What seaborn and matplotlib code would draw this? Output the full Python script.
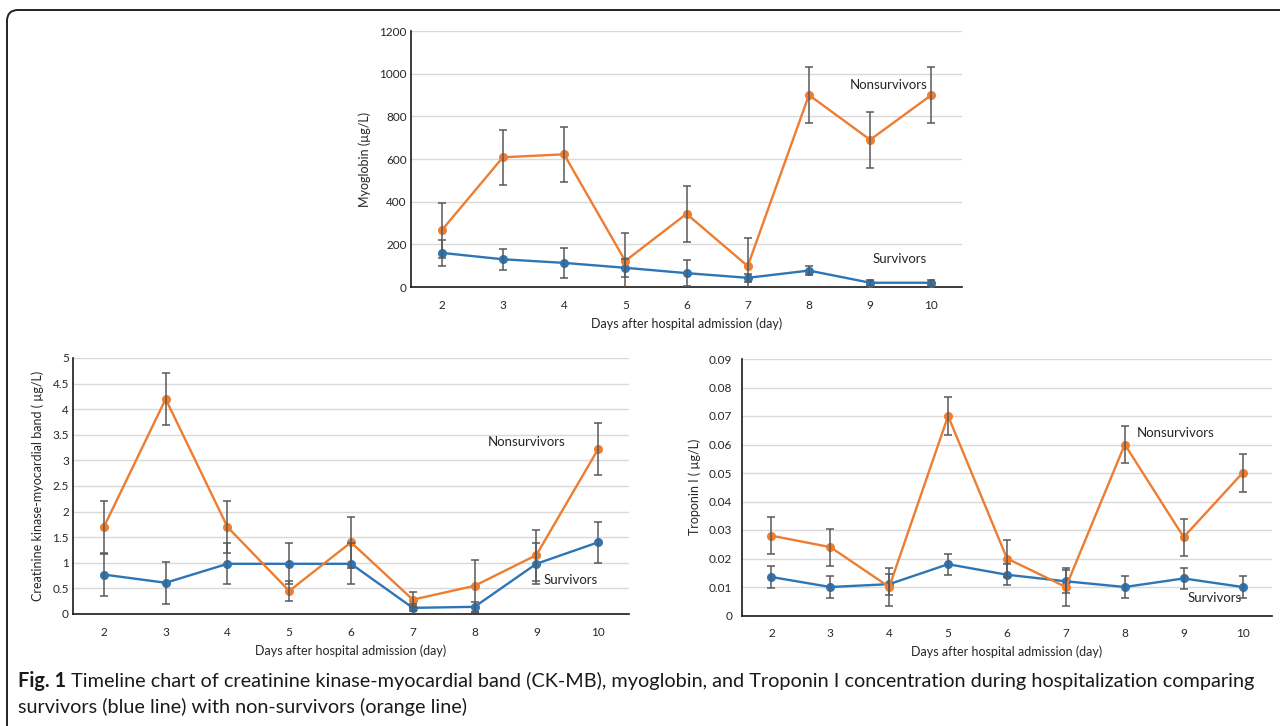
import matplotlib
matplotlib.use("Agg")
import matplotlib.pyplot as plt
import seaborn as sns
import pandas as pd
from matplotlib.patches import FancyBboxPatch
from matplotlib.transforms import IdentityTransform

# ---------------- data ----------------
days = [2, 3, 4, 5, 6, 7, 8, 9, 10]

myo_surv = [160, 130, 113, 90, 65, 43, 77, 20, 20]
myo_surv_err = [60, 50, 72, 43, 60, 20, 20, 15, 15]
myo_non = [265, 608, 622, 122, 343, 98, 900, 690, 900]
myo_non_err = [130, 130, 130, 130, 132, 132, 130, 130, 130]

ck_surv = [0.77, 0.61, 0.98, 0.98, 0.98, 0.12, 0.14, 0.98, 1.40]
ck_surv_err = [0.41, 0.41, 0.40, 0.40, 0.40, 0.07, 0.10, 0.40, 0.40]
ck_non = [1.70, 4.20, 1.70, 0.45, 1.40, 0.28, 0.55, 1.15, 3.22]
ck_non_err = [0.50, 0.51, 0.50, 0.20, 0.50, 0.15, 0.51, 0.50, 0.51]

tro_surv = [0.0135, 0.010, 0.011, 0.018, 0.0143, 0.012, 0.010, 0.013, 0.010]
tro_surv_err = [0.0037, 0.0037, 0.0037, 0.0037, 0.0037, 0.0040, 0.0037, 0.0037, 0.0037]
tro_non = [0.028, 0.024, 0.010, 0.070, 0.020, 0.010, 0.060, 0.0275, 0.050]
tro_non_err = [0.0065, 0.0065, 0.0065, 0.0065, 0.0065, 0.0065, 0.0065, 0.0065, 0.0065]

groups = ["Survivors", "Nonsurvivors"]
palette = {"Survivors": "#2E75B6", "Nonsurvivors": "#ED7D31"}

xlabel = "Days after hospital admission (day)"
myo_ylabel = "Myoglobin (\u00b5g/L)"
ck_ylabel = "Creatinine kinase-myocardial band ( \u00b5g/L)"
tro_ylabel = "Troponin I ( \u00b5g/L)"

caption_bold = "Fig. 1"
caption_line1 = (" Timeline chart of creatinine kinase-myocardial band (CK-MB), myoglobin, "
                 "and Troponin I concentration during hospitalization comparing")
caption_line2 = "survivors (blue line) with non-survivors (orange line)"

# ---------------- style ----------------
sns.set_style("white")
plt.rcParams["font.family"] = ["Lato", "DejaVu Sans"]
TXT = "#262626"

fig = plt.figure(figsize=(12.8, 7.26), dpi=100)


def panel(rect, surv, surv_err, non, non_err, ylim, yticks, ylabel,
          ylabfmt, non_pos, surv_pos, yticks_marks=False):
    ax = fig.add_axes(rect)
    df = pd.DataFrame({
        "day": days + days,
        "value": surv + non,
        "group": ["Survivors"] * len(days) + ["Nonsurvivors"] * len(days),
    })
    sns.lineplot(data=df, x="day", y="value", hue="group", hue_order=groups,
                 palette=palette, marker="o", markersize=6.5,
                 markeredgewidth=0, linewidth=1.7, legend=False, ax=ax,
                 zorder=3)
    for vals, errs in ((surv, surv_err), (non, non_err)):
        ax.errorbar(days, vals, yerr=errs, fmt="none", ecolor="#595959",
                    elinewidth=1.1, capsize=2.8, capthick=1.1, zorder=4)
    ax.set_xlim(1.5, 10.5)
    ax.set_ylim(*ylim)
    ax.set_xticks(days)
    ax.set_xticklabels([str(d) for d in days])
    ax.set_yticks(yticks)
    ax.set_yticklabels([ylabfmt(v) for v in yticks])
    ax.yaxis.grid(True, color="#D9D9D9", linewidth=1.0)
    ax.xaxis.grid(False)
    ax.set_axisbelow(True)
    for s in ("top", "right"):
        ax.spines[s].set_visible(False)
    ax.spines["left"].set_color("#1a1a1a")
    ax.spines["bottom"].set_color("#1a1a1a")
    ax.spines["left"].set_linewidth(1.2)
    ax.spines["bottom"].set_linewidth(1.2)
    ax.tick_params(axis="x", length=0, labelsize=8.5, colors=TXT, pad=9)
    ax.tick_params(axis="y", length=4 if yticks_marks else 0, width=1.0,
                   color="#1a1a1a", labelsize=8.5, labelcolor=TXT, pad=3)
    ax.set_xlabel(xlabel, fontsize=9, color=TXT, labelpad=5)
    ax.set_ylabel(ylabel, fontsize=9, color=TXT, labelpad=6)
    ax.text(non_pos[0], non_pos[1], "Nonsurvivors", fontsize=9.5, color=TXT,
            ha="center", va="center", zorder=5)
    ax.text(surv_pos[0], surv_pos[1], "Survivors", fontsize=9.5, color=TXT,
            ha="center", va="center", zorder=5)
    return ax


W, H = 1280.0, 726.0


def rect_px(left, right, top, bottom):
    return [left / W, 1 - bottom / H, (right - left) / W, (bottom - top) / H]


panel(rect_px(411, 962, 31, 287), myo_surv, myo_surv_err, myo_non, myo_non_err,
      (0, 1200), [0, 200, 400, 600, 800, 1000, 1200], myo_ylabel,
      lambda v: f"{v:d}", (9.3, 945), (9.48, 133))

panel(rect_px(73, 629, 358, 614), ck_surv, ck_surv_err, ck_non, ck_non_err,
      (0, 5), [0, 0.5, 1, 1.5, 2, 2.5, 3, 3.5, 4, 4.5, 5], ck_ylabel,
      lambda v: f"{v:g}", (8.85, 3.35), (9.56, 0.66))

panel(rect_px(742, 1272, 359, 615.5), tro_surv, tro_surv_err, tro_non, tro_non_err,
      (0, 0.09), [0, 0.01, 0.02, 0.03, 0.04, 0.05, 0.06, 0.07, 0.08, 0.09], tro_ylabel,
      lambda v: "0" if v == 0 else f"{v:.2f}", (8.87, 0.0642), (9.52, 0.0062),
      yticks_marks=True)

# ---------------- frame ----------------
frame = FancyBboxPatch((7, -200), 1500, (H - 10) + 200,
                       boxstyle="round,pad=0,rounding_size=11",
                       transform=IdentityTransform(), facecolor="none",
                       edgecolor="#222222", linewidth=1.4, zorder=0)
fig.add_artist(frame)

# ---------------- caption ----------------
cap_family = ["Liberation Sans Narrow", "DejaVu Sans Condensed", "Lato", "DejaVu Sans"]
fig.canvas.draw()
renderer = fig.canvas.get_renderer()
fs = 14.0
x0, x_end = 18.0, 1251.0
y1, y2 = 1 - 681 / H, 1 - 707 / H
tb = fig.text(x0 / W, y1, caption_bold, fontsize=fs, fontweight="bold",
              family=cap_family, color="#1a1a1a", va="center", ha="left")
tr = fig.text(0, y1, caption_line1, fontsize=fs, family=cap_family,
              color="#1a1a1a", va="center", ha="left")
for _ in range(3):
    wb = tb.get_window_extent(renderer).width
    wr = tr.get_window_extent(renderer).width
    fs = fs * (x_end - x0) / (wb + wr)
    tb.set_fontsize(fs)
    tr.set_fontsize(fs)
wb = tb.get_window_extent(renderer).width
tr.set_x((x0 + wb) / W)
fig.text(x0 / W, y2, caption_line2, fontsize=fs, family=cap_family,
         color="#1a1a1a", va="center", ha="left")

fig.savefig("out.png", dpi=100)
